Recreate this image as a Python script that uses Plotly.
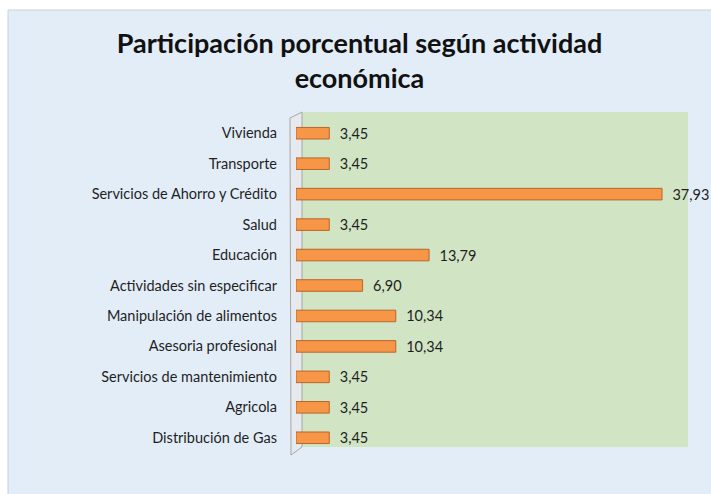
import plotly.graph_objects as go

# Data
actividades = [
    "Vivienda",
    "Transporte",
    "Servicios de Ahorro y Crédito",
    "Salud",
    "Educación",
    "Actividades sin especificar",
    "Manipulación de alimentos",
    "Asesoria profesional",
    "Servicios de mantenimiento",
    "Agricola",
    "Distribución de Gas",
]
participacion = [3.45, 3.45, 37.93, 3.45, 13.79, 6.90, 10.34, 10.34, 3.45, 3.45, 3.45]

W, H = 711, 494
L, R, T, B = 296, 29, 118, 41
PW, PH = W - L - R, H - T - B


def px_x(x):
    return (x - L) / PW


def px_y(y):
    return (H - B - y) / PH


fig = go.Figure(go.Bar(
    x=participacion,
    y=actividades,
    orientation="h",
    width=0.38,
    marker=dict(color="#F79646", line=dict(color="#B8662A", width=1)),
    texttemplate="\u00a0\u00a0%{x:.2f}",
    textposition="outside",
    constraintext="none",
    textfont=dict(size=14.5, color="#1F1F1F"),
    cliponaxis=False,
))

shapes = [
    # chart area background
    dict(type="rect", xref="paper", yref="paper", layer="below",
         x0=px_x(8), x1=px_x(W + 2), y0=px_y(10), y1=px_y(H + 2),
         fillcolor="#E3EDF8", line=dict(color="#C8D2DC", width=1)),
    # plot area (green back wall)
    dict(type="rect", xref="paper", yref="paper", layer="below",
         x0=px_x(302), x1=px_x(688), y0=px_y(112), y1=px_y(447),
         fillcolor="#D1E5C4", line=dict(width=0)),
    # 3D side wall
    dict(type="path", xref="paper", yref="paper", layer="below",
         path="M {} {} L {} {} L {} {} L {} {} Z".format(
             px_x(290), px_y(118), px_x(302), px_y(112),
             px_x(302), px_y(447), px_x(291), px_y(455)),
         fillcolor="#E6EAEE", line=dict(color="#A6A6A6", width=1)),
]

fig.update_layout(
    width=W,
    height=H,
    margin=dict(l=L, r=R, t=T, b=B),
    paper_bgcolor="#FFFFFF",
    plot_bgcolor="rgba(0,0,0,0)",
    separators=",.",
    font=dict(family="Lato, Arial, sans-serif", color="#1F1F1F"),
    title=dict(
        text="<b>Participación porcentual según actividad<br>económica</b>",
        x=(8 + W) / 2 / W,
        xanchor="center",
        y=1 - 53 / H,
        yanchor="top",
        font=dict(size=27, color="#111111"),
    ),
    xaxis=dict(range=[0, 40], visible=False, fixedrange=True),
    yaxis=dict(
        autorange="reversed",
        showgrid=False,
        zeroline=False,
        showline=False,
        ticks="",
        ticklabelstandoff=18,
        tickfont=dict(size=14.5, color="#1F1F1F"),
    ),
    shapes=shapes,
    showlegend=False,
    bargap=0.6,
)

fig.write_html("out.html", config={"displayModeBar": False},
               post_script="document.body.style.margin='0';")
